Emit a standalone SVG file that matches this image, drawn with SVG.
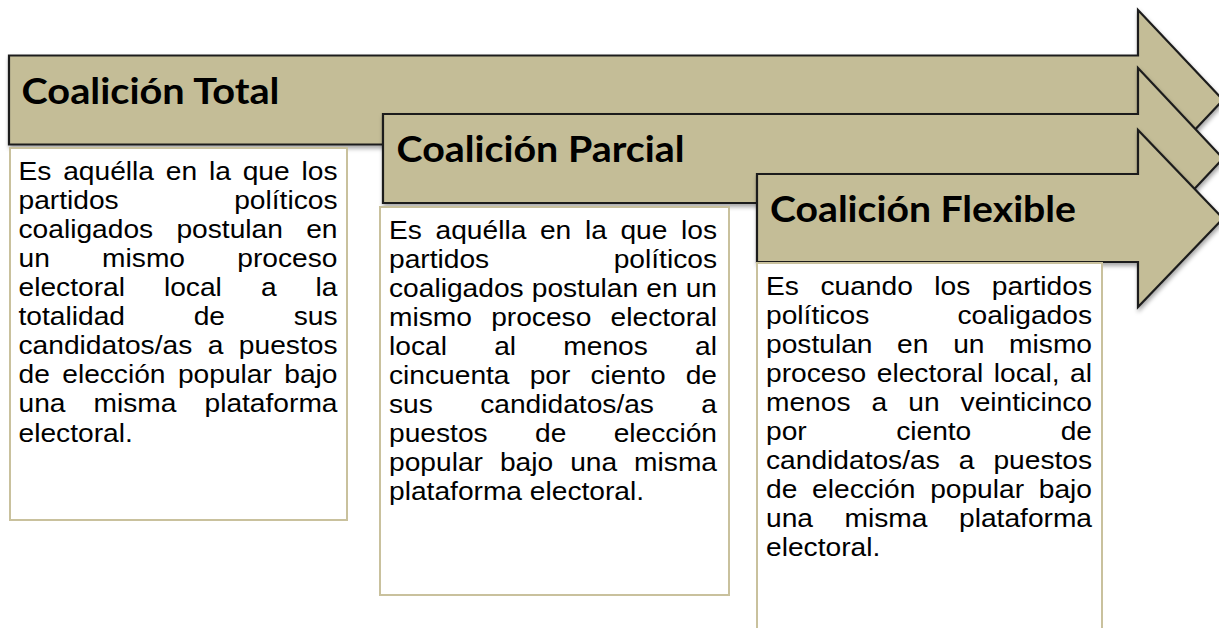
<svg xmlns="http://www.w3.org/2000/svg" width="1219" height="628" viewBox="0 0 1219 628">
<style>
.arrow{fill:#C4BD97;stroke:#1e1e1e;stroke-width:2.2;stroke-linejoin:miter;filter:url(#sh)}
.box{fill:#fff;stroke:#C9C19D;stroke-width:2}
.title{font-family:"Lato","Liberation Sans",sans-serif;font-weight:700;font-size:37px;fill:#000}
.desc{font-family:"Liberation Sans",Arial,sans-serif;font-size:25.6px;fill:#000}
</style>
<defs>
<filter id="sh" x="-5%" y="-20%" width="110%" height="150%">
<feDropShadow dx="1" dy="3" stdDeviation="2" flood-color="#000" flood-opacity="0.35"/>
</filter>
</defs>
<rect width="1219" height="628" fill="#fff"/>
<g id="node-total">
<polygon class="arrow" points="9,55.5 1138,55.5 1138,10 1223,100 1138,190 1138,144.5 9,144.5"/>
<text class="title" x="21.5" y="104" textLength="258" lengthAdjust="spacingAndGlyphs">Coalición Total</text>
<rect class="box" x="10" y="148" width="337" height="372"/>
<g class="desc" transform="translate(18.5,0) scale(1.1,1)">
<text y="180"><tspan x="0">Es</tspan><tspan x="40.64">aquélla</tspan><tspan x="133.93">en</tspan><tspan x="173.16">la</tspan><tspan x="203.84">que</tspan><tspan x="290" text-anchor="end">los</tspan></text>
<text y="209"><tspan x="0">partidos</tspan><tspan x="290" text-anchor="end">políticos</tspan></text>
<text y="238"><tspan x="0">coaligados</tspan><tspan x="143.57">postulan</tspan><tspan x="290" text-anchor="end">en</tspan></text>
<text y="267"><tspan x="0">un</tspan><tspan x="76.02">mismo</tspan><tspan x="290" text-anchor="end">proceso</tspan></text>
<text y="296"><tspan x="0">electoral</tspan><tspan x="132.24">local</tspan><tspan x="220.37">a</tspan><tspan x="290" text-anchor="end">la</tspan></text>
<text y="325"><tspan x="0">totalidad</tspan><tspan x="159.24">de</tspan><tspan x="290" text-anchor="end">sus</tspan></text>
<text y="354"><tspan x="0">candidatos/as</tspan><tspan x="172.03">a</tspan><tspan x="290" text-anchor="end">puestos</tspan></text>
<text y="383"><tspan x="0">de</tspan><tspan x="39.76">elección</tspan><tspan x="144.95">popular</tspan><tspan x="290" text-anchor="end">bajo</tspan></text>
<text y="412"><tspan x="0">una</tspan><tspan x="68.2">misma</tspan><tspan x="290" text-anchor="end">plataforma</tspan></text>
<text y="442" x="0">electoral.</text>
</g>
</g>
<g id="node-parcial">
<polygon class="arrow" points="383,114 1138,114 1138,68 1223,158.5 1138,249 1138,203 383,203"/>
<text class="title" x="396.5" y="161.5" textLength="288" lengthAdjust="spacingAndGlyphs">Coalición Parcial</text>
<rect class="box" x="380" y="207" width="349" height="388"/>
<g class="desc" transform="translate(389,0) scale(1.1,1)">
<text y="239.5"><tspan x="0">Es</tspan><tspan x="42.28">aquélla</tspan><tspan x="137.21">en</tspan><tspan x="178.08">la</tspan><tspan x="210.4">que</tspan><tspan x="298.2" text-anchor="end">los</tspan></text>
<text y="268.5"><tspan x="0">partidos</tspan><tspan x="298.2" text-anchor="end">políticos</tspan></text>
<text y="297.5"><tspan x="0">coaligados</tspan><tspan x="129.75">postulan</tspan><tspan x="233.9">en</tspan><tspan x="298.2" text-anchor="end">un</tspan></text>
<text y="326.5"><tspan x="0">mismo</tspan><tspan x="92.89">proceso</tspan><tspan x="298.2" text-anchor="end">electoral</tspan></text>
<text y="355.5"><tspan x="0">local</tspan><tspan x="95.6">al</tspan><tspan x="158.49">menos</tspan><tspan x="298.2" text-anchor="end">al</tspan></text>
<text y="384.5"><tspan x="0">cincuenta</tspan><tspan x="127.86">por</tspan><tspan x="183.14">ciento</tspan><tspan x="298.2" text-anchor="end">de</tspan></text>
<text y="413.5"><tspan x="0">sus</tspan><tspan x="82.92">candidatos/as</tspan><tspan x="298.2" text-anchor="end">a</tspan></text>
<text y="442.5"><tspan x="0">puestos</tspan><tspan x="132.74">de</tspan><tspan x="298.2" text-anchor="end">elección</tspan></text>
<text y="471.5"><tspan x="0">popular</tspan><tspan x="100.84">bajo</tspan><tspan x="164.68">una</tspan><tspan x="298.2" text-anchor="end">misma</tspan></text>
<text y="500.5" x="0">plataforma electoral.</text>
</g>
</g>
<g id="node-flexible">
<polygon class="arrow" points="757,174 1138,174 1138,130 1223,218.5 1138,307 1138,262 757,262"/>
<text class="title" x="770" y="221.5" textLength="306" lengthAdjust="spacingAndGlyphs">Coalición Flexible</text>
<rect class="box" x="757" y="263" width="345" height="380"/>
<g class="desc" transform="translate(766,0) scale(1.1,1)">
<text y="295"><tspan x="0">Es</tspan><tspan x="49.47">cuando</tspan><tspan x="153.03">los</tspan><tspan x="296.4" text-anchor="end">partidos</tspan></text>
<text y="324"><tspan x="0">políticos</tspan><tspan x="296.4" text-anchor="end">coaligados</tspan></text>
<text y="353"><tspan x="0">postulan</tspan><tspan x="119.21">en</tspan><tspan x="170.12">un</tspan><tspan x="296.4" text-anchor="end">mismo</tspan></text>
<text y="382"><tspan x="0">proceso</tspan><tspan x="100.7">electoral</tspan><tspan x="207.08">local,</tspan><tspan x="296.4" text-anchor="end">al</tspan></text>
<text y="411"><tspan x="0">menos</tspan><tspan x="95.95">a</tspan><tspan x="129.3">un</tspan><tspan x="296.4" text-anchor="end">veinticinco</tspan></text>
<text y="440"><tspan x="0">por</tspan><tspan x="118.31">ciento</tspan><tspan x="296.4" text-anchor="end">de</tspan></text>
<text y="469"><tspan x="0">candidatos/as</tspan><tspan x="175.23">a</tspan><tspan x="296.4" text-anchor="end">puestos</tspan></text>
<text y="498"><tspan x="0">de</tspan><tspan x="41.89">elección</tspan><tspan x="149.21">popular</tspan><tspan x="296.4" text-anchor="end">bajo</tspan></text>
<text y="527"><tspan x="0">una</tspan><tspan x="71.4">misma</tspan><tspan x="296.4" text-anchor="end">plataforma</tspan></text>
<text y="556" x="0">electoral.</text>
</g>
</g>
<g id="connectors"/>
</svg>
